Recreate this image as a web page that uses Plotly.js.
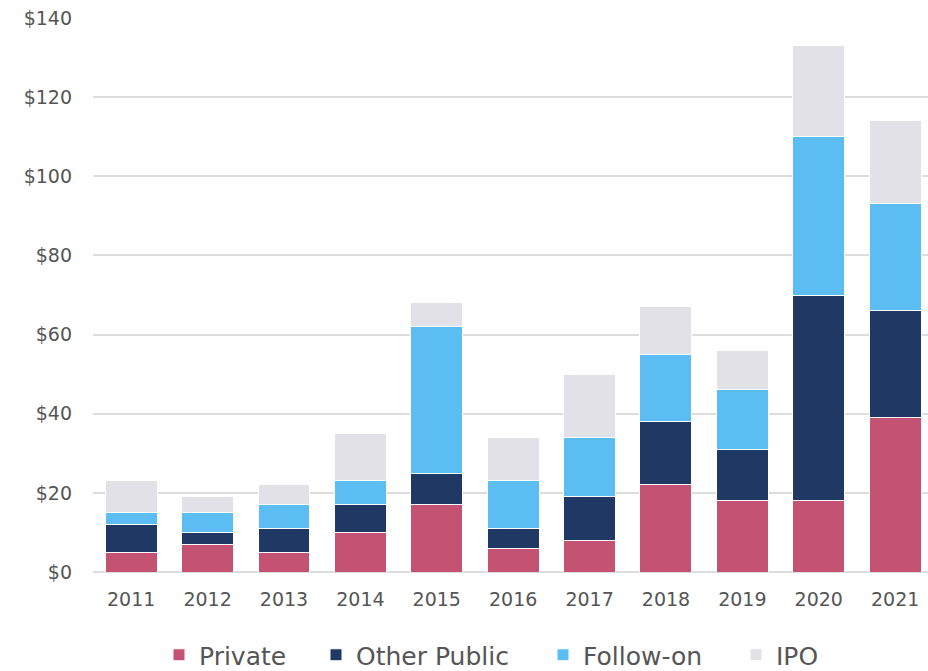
<!DOCTYPE html>
<html><head><meta charset="utf-8">
<script src="https://cdn.plot.ly/plotly-3.0.1.min.js"></script>
<style>html,body{margin:0;padding:0;background:#fff;}#chart{width:928px;height:671px;}</style>
</head><body><div id="chart"></div>
<script>
const years = ['2011','2012','2013','2014','2015','2016','2017','2018','2019','2020','2021'];
const privateVals = [5, 7, 5, 10, 17, 6, 8, 22, 18, 18, 39];
const otherPublicVals = [7, 3, 6, 7, 8, 5, 11, 16, 13, 52, 27];
const followOnVals = [3, 5, 6, 6, 37, 12, 15, 17, 15, 40, 27];
const ipoVals = [8, 4, 5, 12, 6, 11, 16, 12, 10, 23, 21];
const yTickVals = [0, 20, 40, 60, 80, 100, 120, 140];
const yTickText = ['$0', '$20', '$40', '$60', '$80', '$100', '$120', '$140'];
const seriesNames = ['Private', 'Other Public', 'Follow-on', 'IPO'];

const series = [
  {name: seriesNames[0], y: privateVals, color: '#C45272', legend: 'legend', lx: 200},
  {name: seriesNames[1], y: otherPublicVals, color: '#203864', legend: 'legend2', lx: 357},
  {name: seriesNames[2], y: followOnVals, color: '#5BBDF2', legend: 'legend3', lx: 584},
  {name: seriesNames[3], y: ipoVals, color: '#E2E1E7', legend: 'legend4', lx: 777}
];
const traces = series.map(s => ({
  type: 'bar', x: years, y: s.y, name: s.name, legend: s.legend,
  marker: {color: s.color, line: {color: '#ffffff', width: 1}},
  width: 0.68, hoverinfo: 'skip'
}));
const W = 928, H = 671;
const TEXT_OFFSET = 41;
function mkLegend(px) {
  return {orientation: 'h', xref: 'container', yref: 'container',
    x: (px - TEXT_OFFSET) / W, xanchor: 'left', y: (H - 655) / H, yanchor: 'middle',
    font: {family: 'DejaVu Sans, sans-serif', size: 25, color: '#555555'},
    itemwidth: 30, bgcolor: 'rgba(0,0,0,0)'};
}
const layout = {
  width: W, height: H,
  margin: {l: 93, r: 0, t: 18, b: 99},
  barmode: 'stack',
  paper_bgcolor: '#fff', plot_bgcolor: '#fff',
  font: {family: 'DejaVu Sans, Open Sans, sans-serif', color: '#555555', size: 19},
  xaxis: {type: 'category', range: [-0.5, 10.43], showgrid: false, zeroline: false,
    showline: false, ticks: '', ticklabelstandoff: 14, tickfont: {size: 19, color: '#555555'}, automargin: false},
  yaxis: {range: [0, 140], tickvals: yTickVals, ticktext: yTickText, showgrid: true,
    gridcolor: '#dddddd', gridwidth: 2, zeroline: true, zerolinecolor: '#dddddd', zerolinewidth: 2,
    showline: false, ticks: '', ticklabelstandoff: 20, tickfont: {size: 19, color: '#555555'}, automargin: false},
  showlegend: true,
  legend: mkLegend(series[0].lx),
  legend2: mkLegend(series[1].lx),
  legend3: mkLegend(series[2].lx),
  legend4: mkLegend(series[3].lx)
};
Plotly.newPlot('chart', traces, layout, {staticPlot: true, displayModeBar: false});
</script></body></html>
